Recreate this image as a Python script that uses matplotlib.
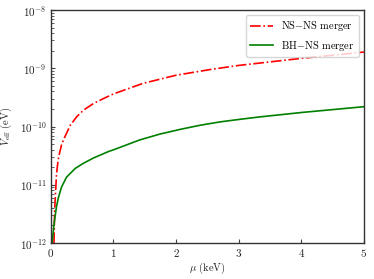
import matplotlib
matplotlib.use("Agg")
import matplotlib.pyplot as plt

plt.rcParams['font.family'] = 'serif'
plt.rcParams['font.serif'] = ['cmr10', 'DejaVu Serif']
plt.rcParams['mathtext.fontset'] = 'cm'
plt.rcParams['axes.unicode_minus'] = False
plt.rcParams['axes.formatter.use_mathtext'] = True

# NS-NS merger
nsns_mu = [0.05, 0.06, 0.09, 0.115, 0.14, 0.17, 0.21, 0.31, 0.41, 0.52, 0.68, 0.84,
           1.0, 1.47, 2.0, 2.54, 3.0, 4.0, 5.0]
nsns_V = [1.0e-12, 3.6e-12, 1.51e-11, 2.63e-11, 3.55e-11, 4.8e-11, 6.2e-11, 1.05e-10,
          1.46e-10, 1.91e-10, 2.48e-10, 3.02e-10, 3.63e-10, 5.5e-10, 7.6e-10, 9.5e-10,
          1.12e-9, 1.48e-9, 1.9e-9]
# BH-NS merger
bhns_mu = [0.02, 0.05, 0.09, 0.12, 0.17, 0.25, 0.39, 0.52, 0.68, 0.92, 1.0, 1.42, 1.74,
           2.06, 2.38, 2.70, 3.02, 3.33, 4.0, 5.0]
bhns_V = [1.0e-12, 2.1e-12, 4.2e-12, 6.0e-12, 9.1e-12, 1.35e-11, 1.91e-11, 2.34e-11,
          2.88e-11, 3.72e-11, 3.98e-11, 5.89e-11, 7.41e-11, 8.91e-11, 1.05e-10, 1.20e-10,
          1.33e-10, 1.46e-10, 1.74e-10, 2.19e-10]

labels = ['NS$-$NS merger', 'BH$-$NS merger']
xticks = [0, 1, 2, 3, 4, 5]

fig = plt.figure(figsize=(3.74, 2.79), dpi=100)
ax = fig.add_axes([0.136, 0.129, 0.837, 0.835])

ax.plot(nsns_mu, nsns_V, color='red', linestyle='-.', linewidth=1.2, label=labels[0])
ax.plot(bhns_mu, bhns_V, color='green', linestyle='-', linewidth=1.2, label=labels[1])

ax.set_yscale('log')
ax.set_xlim(0, 5)
ax.set_ylim(1e-12, 1e-8)
ax.set_xticks(xticks)
ax.tick_params(which='both', direction='in', labelsize=8, colors='#444444',
               labelcolor='#222222', pad=3)
ax.tick_params(which='major', length=3)
ax.tick_params(which='minor', length=1.8)
for s in ax.spines.values():
    s.set_color('#333333')
    s.set_linewidth(1.0)

ax.set_xlabel(r'$\mu$ (keV)', fontsize=7.5, color='#222222', labelpad=1)
ax.set_ylabel(r'$V_{\rm eff}$ (eV)', fontsize=7.5, color='#222222')
ax.yaxis.set_label_coords(-0.118, 0.5)

leg = ax.legend(loc='upper right', fontsize=7.5, borderaxespad=0.5, handlelength=2.2)

fig.savefig('out.png', dpi=100)
